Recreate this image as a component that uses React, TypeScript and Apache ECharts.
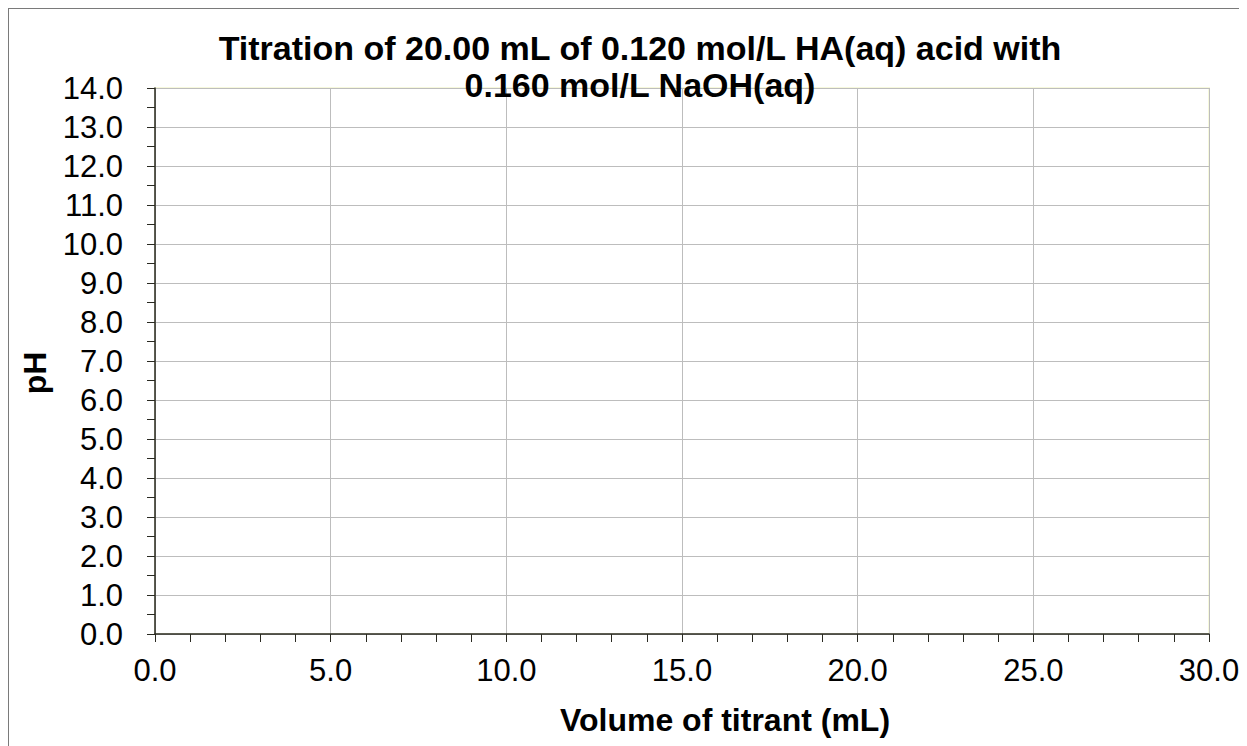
import React, { useEffect, useRef } from "react";
import * as echarts from "echarts";

const titleLines: string[] = [
  "Titration of 20.00 mL of 0.120 mol/L HA(aq) acid with",
  "0.160 mol/L NaOH(aq)",
];
const xAxisName = "Volume of titrant (mL)";
const yAxisName = "pH";
const xRange: number[] = [0, 30, 5];
const yRange: number[] = [0, 14, 1];
const titrantVolume: number[] = [];
const pHValues: number[] = [];

export default function App() {
  const ref = useRef<HTMLDivElement>(null);
  useEffect(() => {
    if (!ref.current) return;
    const chart = echarts.init(ref.current, undefined, { renderer: "svg" });
    const font = "'Liberation Sans', Arial, sans-serif";
    const data = titrantVolume.map((v, i) => [v, pHValues[i]]);
    chart.setOption({
      animation: false,
      grid: {
        left: 146,
        top: 79,
        width: 1054,
        height: 546,
        show: true,
        borderColor: "#f6f8dc",
        borderWidth: 2,
        containLabel: false,
      },
      xAxis: {
        type: "value",
        min: xRange[0],
        max: xRange[1],
        interval: xRange[2],
        axisLine: { show: true, onZero: false, lineStyle: { color: "#2a2a22", width: 1.5 } },
        axisTick: { show: true, length: 8, lineStyle: { color: "#2a2a22" } },
        minorTick: { show: true, splitNumber: 5, length: 8, lineStyle: { color: "#2a2a22" } },
        splitLine: { show: true, lineStyle: { color: "#bdbdbd", width: 1 } },
        axisLabel: {
          margin: 21,
          fontSize: 31,
          fontFamily: font,
          color: "#000",
          formatter: (v: number) => v.toFixed(1),
        },
      },
      yAxis: {
        type: "value",
        min: yRange[0],
        max: yRange[1],
        interval: yRange[2],
        axisLine: { show: true, onZero: false, lineStyle: { color: "#2a2a22", width: 1.5 } },
        axisTick: { show: true, length: 8, lineStyle: { color: "#2a2a22" } },
        minorTick: { show: true, splitNumber: 2, length: 8, lineStyle: { color: "#2a2a22" } },
        splitLine: { show: true, lineStyle: { color: "#bdbdbd", width: 1 } },
        axisLabel: {
          margin: 32,
          fontSize: 31,
          fontFamily: font,
          color: "#000",
          formatter: (v: number) => v.toFixed(1),
        },
      },
      series: [
        {
          type: "line",
          data,
          showSymbol: false,
          lineStyle: { color: "#000" },
        },
      ],
      graphic: [
        {
          type: "text",
          x: 631,
          y: 57,
          z: 100,
          style: {
            text: titleLines.join("\n"),
            align: "center",
            verticalAlign: "middle",
            font: `bold 34px ${font}`,
            lineHeight: 37,
            fill: "#000",
          },
        },
        {
          type: "text",
          x: 716,
          y: 711,
          style: {
            text: xAxisName,
            align: "center",
            verticalAlign: "middle",
            font: `bold 32px ${font}`,
            fill: "#000",
          },
        },
        {
          type: "text",
          x: 26,
          y: 364,
          rotation: Math.PI / 2,
          style: {
            text: yAxisName,
            align: "center",
            verticalAlign: "middle",
            font: `bold 32px ${font}`,
            fill: "#000",
          },
        },
      ],
    });
    return () => chart.dispose();
  }, []);
  return (
    <div
      style={{
        width: 1239,
        height: 738,
        boxSizing: "border-box",
        borderLeft: "1px solid #7a7a7a",
        borderTop: "1px solid #7a7a7a",
      }}
    >
      <div ref={ref} style={{ width: 1238, height: 737 }} />
    </div>
  );
}
